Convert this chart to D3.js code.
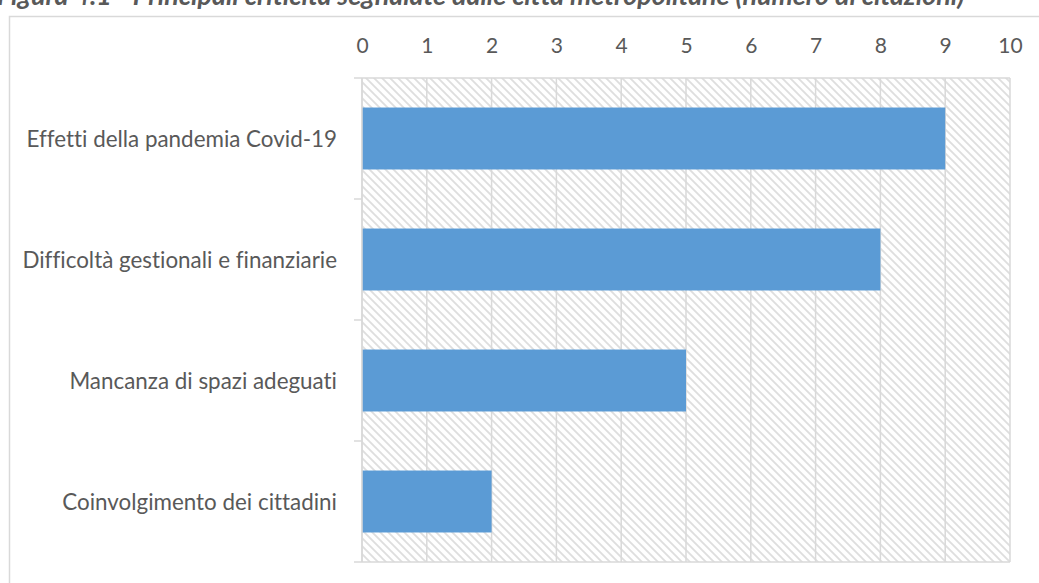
<!DOCTYPE html>
<html>
<head>
<meta charset="utf-8">
<script src="https://cdn.jsdelivr.net/npm/d3@7"></script>
<style>
  html, body { margin: 0; padding: 0; background: #fff; }
  svg { display: block; }
  text { font-family: Lato, "Open Sans", sans-serif; font-variant-ligatures: none; }
</style>
</head>
<body>
<svg id="chart" width="1039" height="583"></svg>
<script>
// Principali criticità segnalate dalle città metropolitane
const categories = [
  "Effetti della pandemia Covid-19",
  "Difficoltà gestionali e finanziarie",
  "Mancanza di spazi adeguati",
  "Coinvolgimento dei cittadini"
];
const citations = [9, 8, 5, 2];
const tickValues = [0, 1, 2, 3, 4, 5, 6, 7, 8, 9, 10];
const title = "Figura 4.1 - Principali criticità segnalate dalle città metropolitane (numero di citazioni)";

const data = categories.map((c, i) => ({ category: c, value: citations[i] }));

const svg = d3.select("#chart");
const plot = { left: 362, right: 1010, top: 78, bottom: 562 };
const gridColor = "#d9d9d9";
const textColor = "#595959";

// Diagonal hatch for the plot background
const defs = svg.append("defs");
const pat = defs.append("pattern")
  .attr("id", "hatch")
  .attr("patternUnits", "userSpaceOnUse")
  .attr("width", 8).attr("height", 8);
pat.append("rect").attr("width", 8).attr("height", 8).attr("fill", "#fff");
pat.append("path")
  .attr("d", "M-2,-2 L10,10 M-2,6 L2,10 M6,-2 L10,2")
  .attr("stroke", "#dedede")
  .attr("stroke-width", 1.8);

// Title (sits partly above the frame)
svg.append("text")
  .attr("x", -3).attr("y", 5)
  .attr("fill", textColor)
  .style("font-size", "26.8px")
  .style("font-weight", "bold")
  .style("font-style", "italic")
  .text(title);

// Chart frame
svg.append("rect")
  .attr("x", 9.5).attr("y", 16.5)
  .attr("width", 1100).attr("height", 700)
  .attr("fill", "none")
  .attr("stroke", gridColor)
  .attr("stroke-width", 1.5);

const x = d3.scaleLinear().domain([0, 10]).range([plot.left, plot.right]);
const y = d3.scaleBand()
  .domain(categories)
  .range([plot.top, plot.bottom])
  .paddingInner(0.488)
  .paddingOuter(0.244);

svg.append("rect")
  .attr("x", plot.left).attr("y", plot.top)
  .attr("width", plot.right - plot.left)
  .attr("height", plot.bottom - plot.top)
  .attr("fill", "url(#hatch)");

// Vertical gridlines
svg.append("g")
  .selectAll("line")
  .data(tickValues)
  .join("line")
  .attr("x1", d => x(d)).attr("x2", d => x(d))
  .attr("y1", plot.top).attr("y2", plot.bottom)
  .attr("stroke", gridColor)
  .attr("stroke-width", 1.5);

// Top and bottom lines of the plot, with outward category ticks
const step = y.step();
const boundaries = d3.range(categories.length + 1).map(i => plot.top + i * step);
svg.append("g")
  .selectAll("line")
  .data(boundaries)
  .join("line")
  .attr("x1", plot.left - 8)
  .attr("x2", (d, i) => (i === 0 || i === categories.length) ? plot.right : plot.left)
  .attr("y1", d => d).attr("y2", d => d)
  .attr("stroke", gridColor)
  .attr("stroke-width", 1.5);

// Bars
svg.append("g")
  .selectAll("rect")
  .data(data)
  .join("rect")
  .attr("x", x(0))
  .attr("y", d => y(d.category))
  .attr("width", d => x(d.value) - x(0))
  .attr("height", y.bandwidth())
  .attr("fill", "#5b9bd5");

// Category axis line
svg.append("line")
  .attr("x1", plot.left).attr("x2", plot.left)
  .attr("y1", plot.top).attr("y2", plot.bottom)
  .attr("stroke", gridColor)
  .attr("stroke-width", 1.5);

// Value axis on top
const xAxis = svg.append("g")
  .attr("transform", `translate(0,${plot.top - 25})`)
  .call(d3.axisTop(x).tickValues(tickValues).tickSize(0).tickPadding(0).tickFormat(d3.format("d")));
xAxis.select(".domain").remove();
xAxis.selectAll("text")
  .attr("fill", textColor)
  .style("font-size", "21px")
  .attr("dy", "0");

// Category axis
const yAxis = svg.append("g")
  .attr("transform", `translate(${plot.left - 25},1)`)
  .call(d3.axisLeft(y).tickSize(0).tickPadding(0));
yAxis.select(".domain").remove();
yAxis.selectAll("text")
  .attr("fill", textColor)
  .style("font-size", "22.4px");
</script>
</body>
</html>
